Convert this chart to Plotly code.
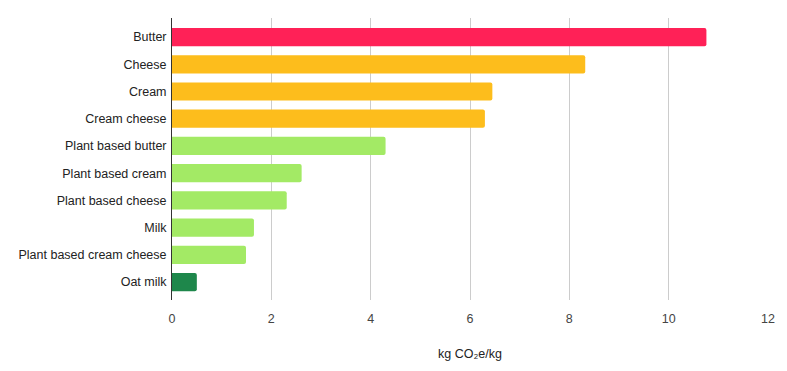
import plotly.graph_objects as go

categories = ["Butter", "Cheese", "Cream", "Cream cheese", "Plant based butter",
              "Plant based cream", "Plant based cheese", "Milk",
              "Plant based cream cheese", "Oat milk"]
values = [10.76, 8.32, 6.45, 6.30, 4.30, 2.61, 2.31, 1.65, 1.49, 0.50]
colors = ["#FF2157", "#FDBD1C", "#FDBD1C", "#FDBD1C", "#A3EA65",
          "#A3EA65", "#A3EA65", "#A3EA65", "#A3EA65", "#1E874B"]
x_ticks = [0, 2, 4, 6, 8, 10, 12]

fig = go.Figure(go.Bar(
    x=values, y=categories, orientation="h",
    marker=dict(color=colors, line=dict(width=0)),
    hoverinfo="x+y",
))

fig.update_layout(
    width=787, height=371,
    margin=dict(l=172, r=19, t=18, b=71),
    paper_bgcolor="white", plot_bgcolor="white",
    bargap=0.33, barcornerradius=2,
    font=dict(family="Liberation Sans, Arial, sans-serif", size=12.5, color="#222222"),
    showlegend=False,
)
fig.update_xaxes(
    range=[0, 12], tickvals=x_ticks, ticktext=[str(t) for t in x_ticks],
    showgrid=True, gridcolor="#CCCCCC", gridwidth=1,
    zeroline=False, showline=False, ticks="",
    ticklabelstandoff=9,
    tickfont=dict(size=12.5, color="#444444"),
    title=dict(text="kg CO₂e/kg", font=dict(size=12.5, color="#222222"), standoff=24),
)
fig.update_yaxes(
    categoryorder="array", categoryarray=categories,
    range=[9.66, -0.70],
    showgrid=False, zeroline=False,
    showline=True, linecolor="#333333", linewidth=1,
    ticks="", ticklabelstandoff=2,
    tickfont=dict(size=12.5, color="#222222"),
)

fig.write_html("out.html", config={"displayModeBar": False},
               post_script="document.body.style.margin='0';document.body.style.padding='0';")
